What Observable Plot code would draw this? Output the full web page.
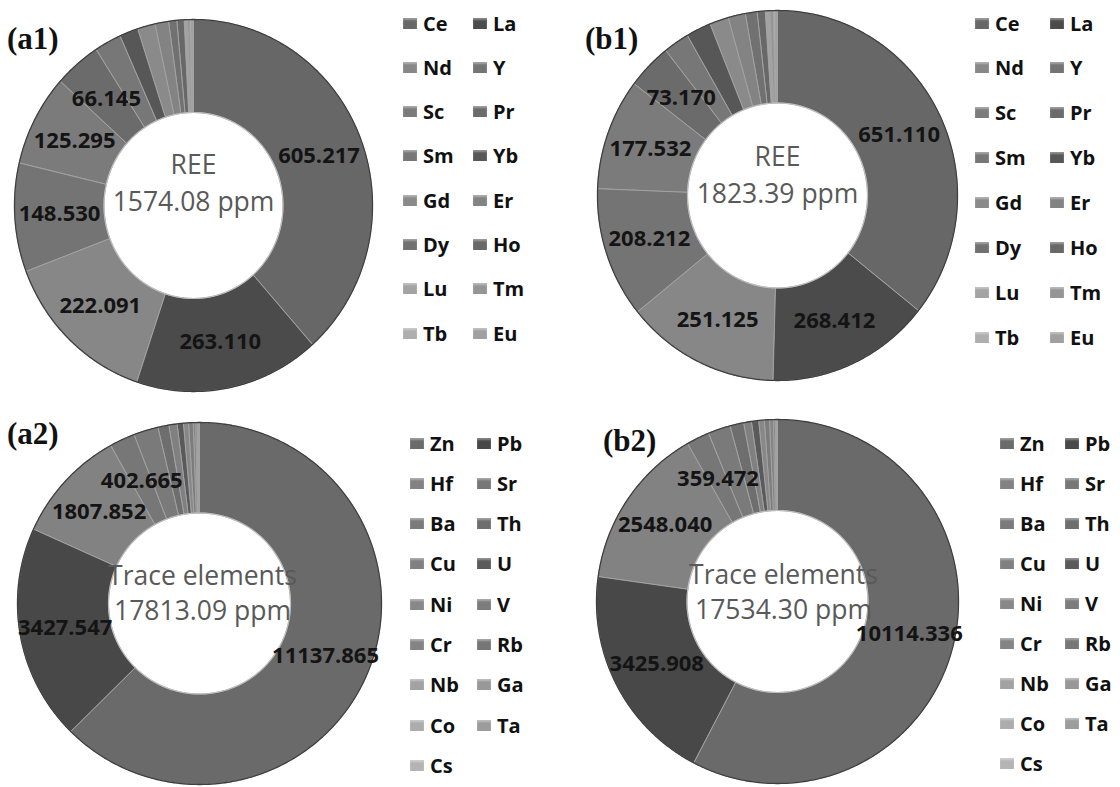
<!DOCTYPE html>
<html>
<head>
<meta charset="utf-8">
<script src="https://cdn.jsdelivr.net/npm/d3@7"></script>
<script src="https://cdn.jsdelivr.net/npm/@observablehq/plot@0.6"></script>
<style>
  body { margin: 0; background: #fff; }
  #fig { position: relative; width: 1120px; height: 787px; overflow: hidden; background: #fff; }
  .panel { position: absolute; width: 560px; height: 394px; }
  .panel svg { position: absolute; left: 0; top: 0; background: transparent; }
  .tag { position: absolute; font-family: "Liberation Serif", "Times New Roman", serif; font-weight: bold;
         font-size: 31px; line-height: 1; color: #111; }
  .item { position: absolute; height: 24px; display: flex; align-items: center;
          font-family: "Open Sans", Lato, sans-serif; font-weight: bold; font-size: 20px; color: #111; }
  .sw { width: 14px; height: 11px; margin-right: 6px; box-shadow: inset 0 2px 2px rgba(255,255,255,0.35); }
</style>
</head>
<body>
<div id="fig"></div>
<script>
// Rare earth elements (ppm), listed largest to smallest
const reeElements = ["Ce","La","Nd","Y","Sc","Pr","Sm","Yb","Gd","Er","Dy","Ho","Lu","Tm","Tb","Eu"];
const reeA1 = [605.217, 263.110, 222.091, 148.530, 125.295, 66.145, 38.214, 26.512, 25.106, 19.387, 11.623, 10.284, 4.607, 3.215, 2.590, 2.154];
const reeB1 = [651.110, 268.412, 251.125, 208.212, 177.532, 73.170, 42.118, 40.906, 30.874, 28.317, 19.205, 13.196, 7.512, 5.430, 3.518, 2.753];
const reeColors = ["#676767","#4b4b4b","#878787","#747474","#7b7b7b","#6b6b6b","#777777","#575757",
                   "#8a8a8a","#838383","#717171","#686868","#a3a3a3","#959595","#aeaeae","#a0a0a0"];

// Trace elements (ppm), listed largest to smallest
const traceElements = ["Zn","Pb","Hf","Sr","Ba","Th","Cu","U","Ni","V","Cr","Rb","Nb","Ga","Co","Ta","Cs"];
const traceA2 = [11137.865, 3427.547, 1807.852, 402.665, 389.574, 172.316, 131.208, 98.715, 81.432, 72.864, 37.519, 20.336, 13.847, 9.218, 5.906, 2.513, 1.713];
const traceB2 = [10114.336, 3425.908, 2548.040, 359.472, 352.108, 214.306, 121.735, 112.460, 88.217, 80.643, 59.372, 24.681, 14.392, 10.526, 4.818, 2.207, 1.079];
const traceColors = ["#6a6a6a","#484848","#828282","#777777","#7a7a7a","#6e6e6e","#808080","#5a5a5a","#888888",
                     "#7c7c7c","#848484","#767676","#a2a2a2","#989898","#acacac","#9c9c9c","#b4b4b4"];

const HOLE = 0.5; // inner radius as a share of the outer radius

// Layout of the four panels (pixels inside each 560 x 394 panel)
const panels = [
  {tag: "(a1)", names: reeElements, values: reeA1, colors: reeColors, title: "REE", labelTop: 6,
   left: 0, top: 0, cx: 193, cy: 205, rx: 179, ry: 186, tagX: 7, tagY: 23,
   legX: 403, legY: 23, colW: 70, rowH: 44.3, titleDy: -40, totalDy: -3, textDx: 0},
  {tag: "(b1)", names: reeElements, values: reeB1, colors: reeColors, title: "REE", labelTop: 6,
   left: 560, top: 0, cx: 217, cy: 195, rx: 180, ry: 185, tagX: 25, tagY: 23,
   legX: 415, legY: 23, colW: 75, rowH: 44.9, titleDy: -38, totalDy: -1, textDx: 0},
  {tag: "(a2)", names: traceElements, values: traceA2, colors: traceColors, title: "Trace elements", labelTop: 4,
   left: 0, top: 393, cx: 199, cy: 210, rx: 182, ry: 181, tagX: 7, tagY: 25,
   legX: 410, legY: 50, colW: 67, rowH: 40.3, titleDy: -27, totalDy: 8, textDx: 3},
  {tag: "(b2)", names: traceElements, values: traceB2, colors: traceColors, title: "Trace elements", labelTop: 4,
   left: 560, top: 393, cx: 217, cy: 208, rx: 181, ry: 182, tagX: 43, tagY: 32,
   legX: 440, legY: 50, colW: 65, rowH: 40, titleDy: -26, totalDy: 9, textDx: 6}
];

const fig = document.getElementById("fig");

// Points of a full circle of radius r (in units of the outer radius)
function circle(r) {
  return d3.range(0, 721).map(k => {
    const t = k / 720 * 2 * Math.PI;
    return {x: r * Math.sin(t), y: r * Math.cos(t)};
  });
}

function drawPanel(p) {
  const rows = p.names.map((name, i) => ({name, value: p.values[i]}));
  const arcs = d3.pie().sort(null).value(d => d.value).startAngle(0).endAngle(2 * Math.PI)(rows);

  // Each slice becomes a closed outline: outer arc forward, inner arc back
  const outline = [];
  for (const a of arcs) {
    const span = a.endAngle - a.startAngle;
    const n = Math.max(2, Math.ceil(span / (Math.PI / 360)));
    for (let k = 0; k <= n; k++) {
      const t = a.startAngle + span * k / n;
      outline.push({name: a.data.name, x: Math.sin(t), y: Math.cos(t)});
    }
    for (let k = n; k >= 0; k--) {
      const t = a.startAngle + span * k / n;
      outline.push({name: a.data.name, x: HOLE * Math.sin(t), y: HOLE * Math.cos(t)});
    }
  }

  // Value labels at slice centroids for the largest slices
  const rMid = (1 + HOLE) / 2;
  const labels = arcs.slice(0, p.labelTop).map(a => {
    const m = (a.startAngle + a.endAngle) / 2;
    return {x: rMid * Math.sin(m), y: rMid * Math.cos(m), text: a.data.value.toFixed(3)};
  });

  const total = d3.sum(p.values).toFixed(2) + " ppm";

  const chart = Plot.plot({
    width: 560,
    height: 394,
    margin: 0,
    style: {background: "transparent"},
    x: {domain: [-1, 1], range: [p.cx - p.rx, p.cx + p.rx], axis: null},
    y: {domain: [-1, 1], range: [p.cy + p.ry, p.cy - p.ry], axis: null},
    color: {type: "ordinal", domain: p.names, range: p.colors},
    marks: [
      Plot.line(outline, {x: "x", y: "y", z: "name", fill: "name", stroke: "#a2a2a2", strokeWidth: 1,
                          curve: "linear-closed", strokeLinejoin: "round"}),
      Plot.line(circle(HOLE), {x: "x", y: "y", stroke: "#bdbdbd", strokeWidth: 1.2, curve: "linear-closed"}),
      Plot.line(circle(1), {x: "x", y: "y", stroke: "#3e3e3e", strokeWidth: 1.3, curve: "linear-closed"}),
      Plot.text(labels, {x: "x", y: "y", text: "text", fontFamily: "Open Sans", fontWeight: "bold",
                         fontSize: 22, fill: "#141414"}),
      Plot.text([p.title], {x: () => 0, y: () => 0, text: d => d, dx: p.textDx, dy: p.titleDy,
                            fontFamily: "Open Sans", fontSize: 26.5, fill: "#595959"}),
      Plot.text([total], {x: () => 0, y: () => 0, text: d => d, dx: p.textDx, dy: p.totalDy,
                          fontFamily: "Open Sans", fontSize: 26.5, fill: "#595959"})
    ]
  });

  const panel = document.createElement("div");
  panel.className = "panel";
  panel.style.left = p.left + "px";
  panel.style.top = p.top + "px";
  panel.appendChild(chart);

  const tag = document.createElement("div");
  tag.className = "tag";
  tag.textContent = p.tag;
  tag.style.left = p.tagX + "px";
  tag.style.top = p.tagY + "px";
  panel.appendChild(tag);

  p.names.forEach((name, i) => {
    const item = document.createElement("div");
    item.className = "item";
    item.style.left = (p.legX + (i % 2) * p.colW) + "px";
    item.style.top = (p.legY + Math.floor(i / 2) * p.rowH - 12) + "px";
    const sw = document.createElement("span");
    sw.className = "sw";
    sw.style.background = p.colors[i];
    item.appendChild(sw);
    item.appendChild(document.createTextNode(name));
    panel.appendChild(item);
  });

  fig.appendChild(panel);
}

panels.forEach(drawPanel);
</script>
</body>
</html>
